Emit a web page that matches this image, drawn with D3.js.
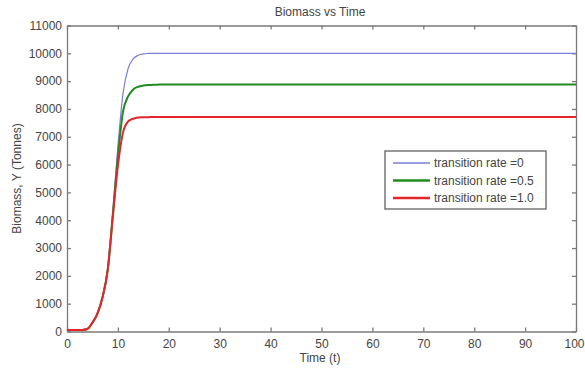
<!DOCTYPE html>
<html>
<head>
<meta charset="utf-8">
<script src="https://cdn.jsdelivr.net/npm/d3@7"></script>
<style>
    body { margin: 0; background: #fff; }
    text { font-family: "Liberation Sans", Arial, sans-serif; fill: #444; }
</style>
</head>
<body>
<div id="chart"></div>
<script>
// time samples (t) and biomass for each transition rate
const times = [0, 1, 2, 3, 4, 5, 6, 7, 8, 9, 10, 11, 12, 13, 14, 15, 16, 17, 18, 20, 30, 50, 100];
const rate0 = [50, 50, 50, 55, 90, 320, 650, 1250, 2250, 4300, 6650, 8550, 9450, 9800, 9930, 9980, 9995, 10000, 10000, 10000, 10000, 10000, 10000];
const rate05 = [50, 50, 50, 55, 90, 320, 650, 1250, 2220, 4200, 6300, 7900, 8450, 8700, 8800, 8840, 8860, 8870, 8875, 8880, 8880, 8880, 8880];
const rate10 = [50, 50, 50, 55, 90, 320, 650, 1240, 2200, 4100, 5950, 7150, 7550, 7650, 7690, 7700, 7705, 7710, 7710, 7710, 7710, 7710, 7710];

const seriesNames = ['transition rate =0', 'transition rate =0.5', 'transition rate =1.0'];
const seriesColors = ['#7c7cd8', '#1f8a1f', '#e3262b'];
const seriesWidths = [1.2, 2, 2];

const xTicks = d3.range(0, 101, 10);
const yTicks = d3.range(0, 11001, 1000);

const width = 585, height = 368;
const plotLeft = 67, plotRight = 576, plotTop = 25.5, plotBottom = 331.5;

let svg = d3.select('#chart').append('svg')
    .attr('width', width)
    .attr('height', height);

let x = d3.scaleLinear().domain([0, 100]).range([plotLeft, plotRight]);
let y = d3.scaleLinear().domain([0, 11000]).range([plotBottom, plotTop]);

// axes, matlab style: inward ticks, box on
svg.append('g')
    .attr('transform', 'translate(0,' + plotBottom + ')')
    .call(d3.axisBottom(x).tickValues(xTicks).tickFormat(d3.format('d')).tickSizeInner(-4).tickSizeOuter(0).tickPadding(8))
    .call(g => g.selectAll('text').attr('font-size', 12).attr('fill', '#444'))
    // last label sits on the window edge, nudge it in a bit
    .call(g => g.selectAll('text').filter(d => d === 100).attr('dx', -2));
svg.append('g')
    .attr('transform', 'translate(' + plotLeft + ',0)')
    .call(d3.axisLeft(y).tickValues(yTicks).tickFormat(d3.format('d')).tickSizeInner(-4).tickSizeOuter(0).tickPadding(5))
    .call(g => g.selectAll('text').attr('font-size', 12).attr('fill', '#444'));
svg.append('g')
    .attr('transform', 'translate(0,' + plotTop + ')')
    .call(d3.axisTop(x).tickValues(xTicks).tickSizeInner(-4).tickSizeOuter(0).tickFormat(''));
svg.append('g')
    .attr('transform', 'translate(' + plotRight + ',0)')
    .call(d3.axisRight(y).tickValues(yTicks).tickSizeInner(-4).tickSizeOuter(0).tickFormat(''));

svg.selectAll('.domain, .tick line').attr('stroke', '#7a7a7a').attr('stroke-width', 1.3);

// curves
let line = d3.line()
    .x((d, i) => x(times[i]))
    .y(d => y(d))
    .curve(d3.curveMonotoneX);

[rate0, rate05, rate10].forEach((s, i) => {
    svg.append('path')
        .attr('d', line(s))
        .attr('fill', 'none')
        .attr('stroke', seriesColors[i])
        .attr('stroke-width', seriesWidths[i]);
});

// titles
svg.append('text')
    .attr('x', 320).attr('y', 16)
    .attr('text-anchor', 'middle')
    .attr('font-size', 12)
    .text('Biomass vs Time');
svg.append('text')
    .attr('x', 320).attr('y', 362)
    .attr('text-anchor', 'middle')
    .attr('font-size', 12)
    .text('Time (t)');
svg.append('text')
    .attr('transform', 'translate(21,' + (plotTop + plotBottom) / 2 + ') rotate(-90)')
    .attr('text-anchor', 'middle')
    .attr('font-size', 12)
    .text('Biomass, Y (Tonnes)');

// legend
let legend = svg.append('g').attr('transform', 'translate(385,151)');
legend.append('rect')
    .attr('width', 161).attr('height', 58)
    .attr('fill', '#fff')
    .attr('stroke', '#555')
    .attr('stroke-width', 1.2);
seriesNames.forEach((name, i) => {
    let yy = 12 + i * 17.5;
    legend.append('line')
        .attr('x1', 8).attr('x2', 45)
        .attr('y1', yy).attr('y2', yy)
        .attr('stroke', seriesColors[i])
        .attr('stroke-width', seriesWidths[i] + 0.5);
    legend.append('text')
        .attr('x', 49).attr('y', yy + 4)
        .attr('font-size', 12)
        .text(name);
});
</script>
</body>
</html>
